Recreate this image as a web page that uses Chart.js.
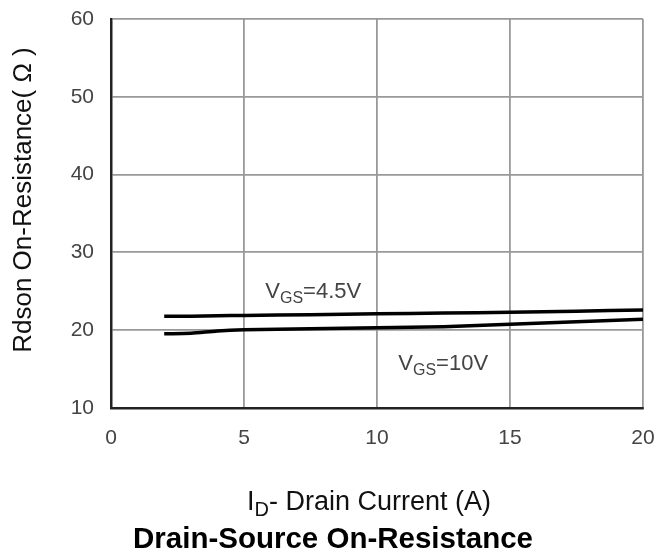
<!DOCTYPE html>
<html>
<head>
<meta charset="utf-8">
<script src="https://cdn.jsdelivr.net/npm/chart.js@4"></script>
<style>
  html, body { margin: 0; padding: 0; background: #fff; }
  #wrap { width: 671px; height: 558px; position: relative; }
</style>
</head>
<body>
<div id="wrap"><canvas id="rdson-chart"></canvas></div>
<script>
// данные
const drainCurrent = [2, 3, 4, 5, 7.5, 10, 12.5, 15, 17.5, 20];
const rdsonVgs45 = [21.8, 21.8, 21.85, 21.9, 22.0, 22.1, 22.2, 22.3, 22.45, 22.6];
const rdsonVgs10 = [19.55, 19.6, 19.9, 20.05, 20.2, 20.3, 20.45, 20.75, 21.1, 21.4];
const xTicks = [0, 5, 10, 15, 20];
const yTicks = [10, 20, 30, 40, 50, 60];
const curveLabels = [
    { main: 'V', sub: 'GS', rest: '=4.5V', x: 5.8, y: 24.1 },
    { main: 'V', sub: 'GS', rest: '=10V', x: 10.8, y: 14.9 }
];

const FONT = '"Liberation Sans", Arial, sans-serif';

function toPoints(xs, ys) {
    return xs.map((x, i) => ({ x: x, y: ys[i] }));
}

// рисуем текст с нижним индексом
function drawSubText(ctx, x, y, main, sub, rest, size, subSize) {
    ctx.textAlign = 'left';
    ctx.textBaseline = 'alphabetic';
    ctx.font = size + 'px ' + FONT;
    ctx.fillText(main, x, y);
    let w = ctx.measureText(main).width;
    ctx.font = subSize + 'px ' + FONT;
    ctx.fillText(sub, x + w, y + size * 0.23);
    w += ctx.measureText(sub).width;
    ctx.font = size + 'px ' + FONT;
    ctx.fillText(rest, x + w, y);
}

function subTextWidth(ctx, main, sub, rest, size, subSize) {
    ctx.font = size + 'px ' + FONT;
    let w = ctx.measureText(main).width + ctx.measureText(rest).width;
    ctx.font = subSize + 'px ' + FONT;
    return w + ctx.measureText(sub).width;
}

const textPlugin = {
    id: 'textPlugin',
    afterDraw(chart) {
        const ctx = chart.ctx;
        const xs = chart.scales.x;
        const ys = chart.scales.y;
        ctx.save();
        ctx.fillStyle = '#444';
        curveLabels.forEach(l => {
            drawSubText(ctx, xs.getPixelForValue(l.x), ys.getPixelForValue(l.y),
                l.main, l.sub, l.rest, 22, 16);
        });

        // подпись оси Y
        ctx.fillStyle = '#111';
        ctx.save();
        ctx.translate(24, 200);
        ctx.rotate(-Math.PI / 2);
        ctx.font = '26px ' + FONT;
        ctx.textAlign = 'center';
        ctx.textBaseline = 'middle';
        ctx.fillText('Rdson On-Resistance( \u03A9 )', 0, 0);
        ctx.restore();

        // подпись оси X
        const w = subTextWidth(ctx, 'I', 'D', '- Drain Current (A)', 27, 20);
        drawSubText(ctx, 369 - w / 2, 510, 'I', 'D', '- Drain Current (A)', 27, 20);

        // заголовок
        ctx.fillStyle = '#000';
        ctx.font = 'bold 29.5px ' + FONT;
        ctx.textAlign = 'center';
        ctx.textBaseline = 'alphabetic';
        ctx.fillText('Drain-Source On-Resistance', 333, 548);
        ctx.restore();
    }
};

const ctx = document.getElementById('rdson-chart').getContext('2d');
const rdsonChart = new Chart(ctx, {
    type: 'line',
    data: {
        datasets: [{
            label: 'VGS=4.5V',
            data: toPoints(drainCurrent, rdsonVgs45),
            borderColor: '#000',
            borderWidth: 3.5,
            pointRadius: 0,
            fill: false
        }, {
            label: 'VGS=10V',
            data: toPoints(drainCurrent, rdsonVgs10),
            borderColor: '#000',
            borderWidth: 3.5,
            pointRadius: 0,
            fill: false
        }]
    },
    options: {
        responsive: true,
        maintainAspectRatio: false,
        animation: false,
        layout: {
            padding: { top: 19, right: 28, bottom: 0, left: 0 }
        },
        elements: {
            line: { tension: 0.3 }
        },
        plugins: {
            legend: { display: false },
            tooltip: { enabled: false }
        },
        scales: {
            x: {
                type: 'linear',
                min: 0,
                max: 20,
                afterBuildTicks: s => { s.ticks = xTicks.map(v => ({ value: v })); },
                afterFit: s => {
                    s.height = 150;
                    s.paddingLeft = 0;
                    s.paddingRight = 0;
                },
                grid: { color: '#999', lineWidth: 1.8, drawTicks: false },
                border: { color: '#222', width: 2.5 },
                ticks: {
                    color: '#444',
                    padding: 18,
                    font: { family: FONT, size: 21 }
                }
            },
            y: {
                type: 'linear',
                min: 10,
                max: 60,
                afterBuildTicks: s => { s.ticks = yTicks.map(v => ({ value: v })); },
                afterFit: s => {
                    s.width = 111;
                    s.paddingTop = 0;
                    s.paddingBottom = 0;
                },
                grid: { color: '#999', lineWidth: 1.8, drawTicks: false },
                border: { color: '#222', width: 2.5 },
                ticks: {
                    color: '#444',
                    padding: 17,
                    font: { family: FONT, size: 21 }
                }
            }
        }
    },
    plugins: [textPlugin]
});
</script>
</body>
</html>
